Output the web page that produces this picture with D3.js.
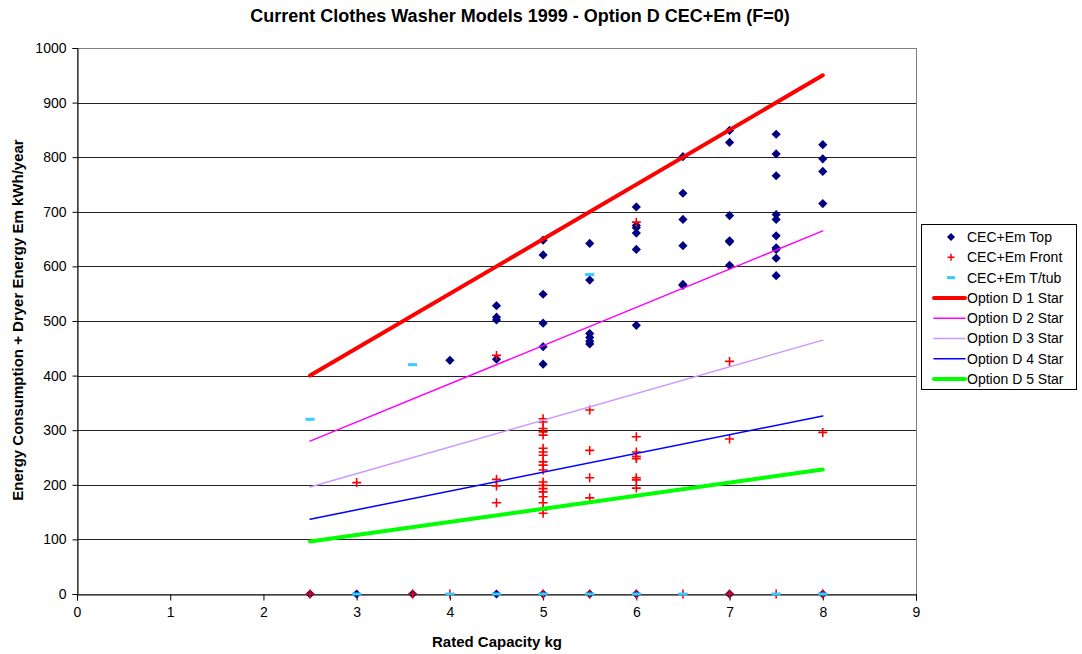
<!DOCTYPE html>
<html>
<head>
<meta charset="utf-8">
<script src="https://cdn.jsdelivr.net/npm/d3@7"></script>
<style>
  body { margin: 0; background: #fff; }
  text { font-family: Arial, "Liberation Sans", sans-serif; }
</style>
</head>
<body>
<div id="chart"></div>
<script>
// top loaders [capacity, kWh/yr]
var topX = [2.5, 3, 3.6, 4, 4.5, 4.5, 4.5, 4.5, 4.5, 5, 5, 5, 5, 5, 5, 5, 5.5, 5.5, 5.5, 5.5, 5.5, 5.5, 5.5,
    6, 6, 6, 6, 6, 6, 6, 6.5, 6.5, 6.5, 6.5, 6.5, 6.5, 7, 7, 7, 7, 7, 7, 7,
    7.5, 7.5, 7.5, 7.5, 7.5, 7.5, 7.5, 7.5, 7.5, 7.5, 8, 8, 8, 8, 8]
var topY = [0, 0, 0, 428, 528, 507, 502, 430, 0, 648, 621, 549, 496, 453, 421, 0, 642, 575, 477, 470, 463, 458, 0,
    709, 675, 661, 631, 492, 671, 0, 801, 734, 686, 638, 567, 565, 849, 827, 693, 647, 645, 602, 0,
    842, 806, 766, 695, 686, 656, 634, 631, 615, 583, 823, 797, 774, 715, 0]

// front loaders
var frontX = [2.5, 3, 3.6, 4, 4.5, 4.5, 4.5, 4.5,
    5, 5, 5, 5, 5, 5, 5, 5, 5, 5, 5, 5, 5, 5, 5, 5, 5, 5, 5, 5,
    5.5, 5.5, 5.5, 5.5, 5.5, 6, 6, 6, 6, 6, 6, 6, 6, 6, 6.5, 7, 7, 7, 7.5, 8, 8]
var frontY = [0, 204, 0, 0, 437, 210, 198, 167,
    321, 315, 303, 297, 291, 267, 260, 254, 242, 236, 227, 205, 199, 193, 187, 178, 167, 154, 148, 0,
    337, 263, 213, 176, 0, 681, 288, 260, 252, 248, 213, 209, 194, 0, 0, 426, 284, 0, 0, 296, 0]

// twin tubs
var tubX = [2.5, 3, 3.6, 4, 4.5, 5, 5.5, 5.5, 6, 6.5, 7.5, 8]
var tubY = [320, 0, 420, 0, 0, 0, 585, 0, 0, 0, 0, 0]

// star rating lines, capacity 2.5 to 8
var lineX = [2.5, 8]
var star1 = [400, 950]
var star2 = [280, 665]
var star3 = [196, 465]
var star4 = [137, 326]
var star5 = [96, 228]

var xTicks = [0, 1, 2, 3, 4, 5, 6, 7, 8, 9]
var yTicks = [0, 100, 200, 300, 400, 500, 600, 700, 800, 900, 1000]

var W = 1082, H = 654
var margin = {top: 48, right: 166, bottom: 60, left: 77}
var pw = 916 - margin.left, ph = 594 - margin.top

var svg = d3.select("#chart").append("svg")
    .attr("width", W)
    .attr("height", H)

var g = svg.append("g")
    .attr("transform", "translate(" + margin.left + "," + margin.top + ")")

var x = d3.scaleLinear().domain([0, 9]).range([0, pw])
var y = d3.scaleLinear().domain([0, 1000]).range([ph, 0])

// gridlines
g.selectAll(".grid")
    .data(yTicks.slice(1))
    .enter().append("line")
    .attr("class", "grid")
    .attr("x1", 0).attr("x2", pw)
    .attr("y1", d => Math.round(y(d)) + 0.5)
    .attr("y2", d => Math.round(y(d)) + 0.5)
    .style("stroke", "#222")
    .style("stroke-width", 1)

g.append("rect")
    .attr("x", 0.5).attr("y", 0.5)
    .attr("width", pw).attr("height", ph)
    .style("fill", "none")
    .style("stroke", "#808080")

// axes
var xAxis = g.append("g")
    .attr("transform", "translate(0," + (ph + 0.5) + ")")
    .call(d3.axisBottom(x).tickValues(xTicks).tickSize(6).tickPadding(5))
var yAxis = g.append("g")
    .attr("transform", "translate(0.5,0)")
    .call(d3.axisLeft(y).tickValues(yTicks).tickFormat(d3.format("d")).tickSize(5).tickPadding(6))

;[xAxis, yAxis].forEach(a => {
    a.select(".domain").style("stroke", "#000")
    a.selectAll(".tick line").style("stroke", "#000")
    a.selectAll("text").style("font-size", "14px").style("fill", "#000")
        .style("font-family", "Arial, 'Liberation Sans', sans-serif")
})
xAxis.selectAll("text").attr("dy", "0.8em")

// series
var NAVY = "#000080", RED = "#ff0000", CYAN = "#33ccff"
var diamondPath = "M0,-4.6L4.6,0L0,4.6L-4.6,0Z"

g.selectAll(".top")
    .data(d3.zip(topX, topY))
    .enter().append("path")
    .attr("class", "top")
    .attr("d", diamondPath)
    .attr("transform", d => "translate(" + x(d[0]) + "," + y(d[1]) + ")")
    .style("fill", NAVY)

g.selectAll(".front")
    .data(d3.zip(frontX, frontY))
    .enter().append("path")
    .attr("class", "front")
    .attr("d", "M-4.5,0H4.5M0,-4.5V4.5")
    .attr("transform", d => "translate(" + x(d[0]) + "," + y(d[1]) + ")")
    .style("stroke", RED)
    .style("stroke-width", 1.6)

g.selectAll(".tub")
    .data(d3.zip(tubX, tubY))
    .enter().append("rect")
    .attr("class", "tub")
    .attr("x", d => x(d[0]) - 4.5)
    .attr("y", d => y(d[1]) - 1.5)
    .attr("width", 9).attr("height", 3)
    .style("fill", CYAN)

var starLines = [
    {name: "Option D 1 Star", vals: star1, color: "#ff0000", width: 4},
    {name: "Option D 2 Star", vals: star2, color: "#ff00ff", width: 1.5},
    {name: "Option D 3 Star", vals: star3, color: "#cc99ff", width: 1.5},
    {name: "Option D 4 Star", vals: star4, color: "#0000ff", width: 1.5},
    {name: "Option D 5 Star", vals: star5, color: "#00ff00", width: 4}
]

var line = d3.line().x(d => x(d[0])).y(d => y(d[1]))
g.selectAll(".star")
    .data(starLines)
    .enter().append("path")
    .attr("class", "star")
    .attr("d", d => line(d3.zip(lineX, d.vals)))
    .style("fill", "none")
    .style("stroke", d => d.color)
    .style("stroke-width", d => d.width)
    .style("stroke-linecap", "round")

// titles
svg.append("text")
    .attr("x", 520).attr("y", 22)
    .attr("text-anchor", "middle")
    .style("font-size", "18px").style("font-weight", "bold")
    .text("Current Clothes Washer Models 1999 - Option D CEC+Em (F=0)")

svg.append("text")
    .attr("x", 497).attr("y", 647)
    .attr("text-anchor", "middle")
    .style("font-size", "15px").style("font-weight", "bold")
    .text("Rated Capacity kg")

svg.append("text")
    .attr("transform", "translate(23,320) rotate(-90)")
    .attr("text-anchor", "middle")
    .style("font-size", "15px").style("font-weight", "bold")
    .text("Energy Consumption + Dryer Energy Em kWh/year")

// legend
var legend = svg.append("g").attr("transform", "translate(921,224)")
legend.append("rect")
    .attr("x", 0.5).attr("y", 0.5)
    .attr("width", 155).attr("height", 165)
    .style("fill", "#fff").style("stroke", "#000")

var legendItems = [
    {name: "CEC+Em Top", kind: "top"},
    {name: "CEC+Em Front", kind: "front"},
    {name: "CEC+Em T/tub", kind: "tub"}
].concat(starLines.map(s => ({name: s.name, kind: "line", color: s.color, width: s.width})))

var li = legend.selectAll(".li")
    .data(legendItems)
    .enter().append("g")
    .attr("class", "li")
    .attr("transform", (d, i) => "translate(0," + (13 + i * 20.3) + ")")

li.filter(d => d.kind === "top").append("path")
    .attr("d", "M0,-4L4,0L0,4L-4,0Z")
    .attr("transform", "translate(30,0)")
    .style("fill", NAVY)
li.filter(d => d.kind === "front").append("path")
    .attr("d", "M-3.5,0H3.5M0,-3.5V3.5")
    .attr("transform", "translate(30,0)")
    .style("stroke", RED).style("stroke-width", 1.5)
li.filter(d => d.kind === "tub").append("rect")
    .attr("x", 26).attr("y", -1.5).attr("width", 8).attr("height", 3)
    .style("fill", CYAN)
li.filter(d => d.kind === "line").append("line")
    .attr("x1", 13).attr("x2", 44).attr("y1", 0).attr("y2", 0)
    .style("stroke", d => d.color)
    .style("stroke-width", d => d.width)
    .style("stroke-linecap", "round")
li.append("text")
    .attr("x", 46).attr("y", 0).attr("dy", "0.35em")
    .style("font-size", "14px")
    .text(d => d.name)
</script>
</body>
</html>
